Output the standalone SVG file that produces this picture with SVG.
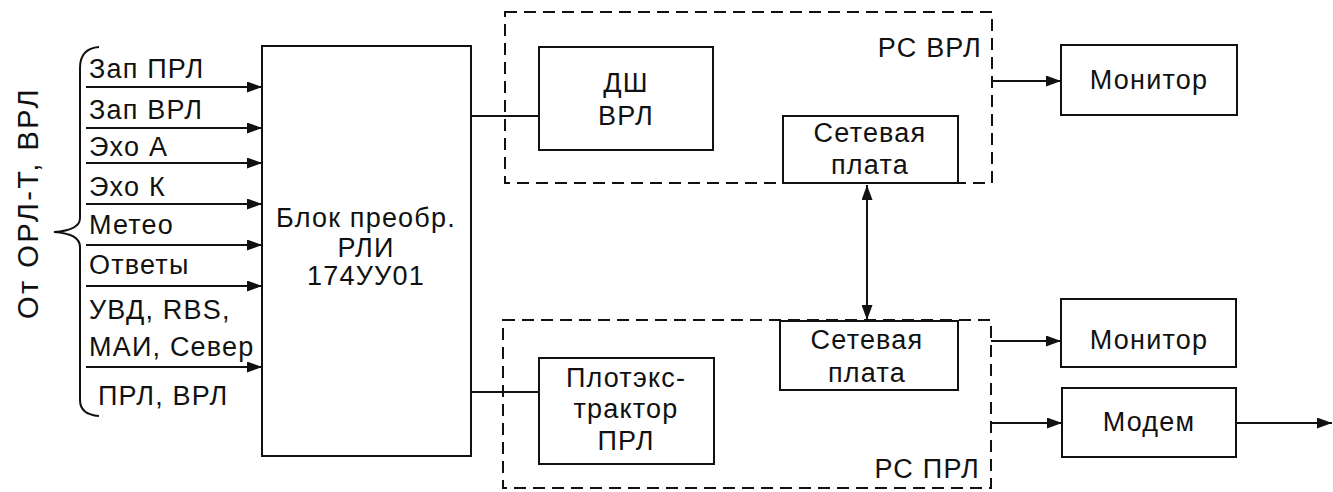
<svg xmlns="http://www.w3.org/2000/svg" width="1333" height="492" viewBox="0 0 1333 492">
<style>
text{font-family:"Liberation Sans",Arial,sans-serif;font-size:27px;letter-spacing:1.2px;fill:#111}
.c{text-anchor:middle}
.rot{font-size:29px;letter-spacing:2.5px}
.box{fill:none;stroke:#111;stroke-width:2}
.dash{fill:none;stroke:#111;stroke-width:2;stroke-dasharray:12 7}
.ln{fill:none;stroke:#111;stroke-width:2}
</style>
<defs>
<marker id="ah" markerWidth="15" markerHeight="11" refX="15" refY="5.5" orient="auto" markerUnits="userSpaceOnUse">
<path d="M0,0 L15,5.5 L0,11 Z" fill="#111"/>
</marker>
<marker id="ahs" markerWidth="15" markerHeight="11" refX="0" refY="5.5" orient="auto" markerUnits="userSpaceOnUse">
<path d="M15,0 L0,5.5 L15,11 Z" fill="#111"/>
</marker>
</defs>
<g id="input-label">
<text class="rot c" transform="translate(38,203) rotate(-90)">От ОРЛ-Т, ВРЛ</text>
<path class="ln" d="M99,47 C86,48 80,55 80,68 L80,218 C80,227 70,231 54,232 C70,233 80,238 80,247 L80,400 C80,410 86,415 99,416"/>
</g>
<g id="inputs">
<text x="89" y="78">Зап ПРЛ</text>
<text x="89" y="119">Зап ВРЛ</text>
<text x="89" y="156">Эхо А</text>
<text x="89" y="196">Эхо К</text>
<text x="89" y="234">Метео</text>
<text x="89" y="274">Ответы</text>
<text x="89" y="319">УВД, RBS,</text>
<text x="89" y="356">МАИ, Север</text>
<text x="98" y="405">ПРЛ, ВРЛ</text>
</g>
<g id="block">
<rect class="box" x="262" y="46" width="209" height="410"/>
<text class="c" x="366" y="227">Блок преобр.</text>
<text class="c" x="366" y="257">РЛИ</text>
<text class="c" x="366" y="285">174УУ01</text>
</g>
<g id="rs-vrl">
<rect class="dash" x="505" y="12" width="487" height="171"/>
<text x="982" y="57" text-anchor="end">РС ВРЛ</text>
</g>
<g id="dsh">
<rect class="box" x="539" y="47" width="174" height="103"/>
<text class="c" x="626" y="92">ДШ</text>
<text class="c" x="626" y="125">ВРЛ</text>
</g>
<g id="net1">
<rect class="box" x="783" y="116" width="175" height="67" fill="#fff"/>
<text class="c" x="870" y="142">Сетевая</text>
<text class="c" x="870" y="174">плата</text>
</g>
<g id="rs-prl">
<rect class="dash" x="503" y="320" width="488" height="168"/>
<text x="980" y="478" text-anchor="end">РС ПРЛ</text>
</g>
<g id="net2">
<rect class="box" x="780" y="321" width="178" height="69" fill="#fff"/>
<text class="c" x="867" y="349">Сетевая</text>
<text class="c" x="867" y="382">плата</text>
</g>
<g id="plot">
<rect class="box" x="539" y="358" width="175" height="106"/>
<text class="c" x="626" y="387">Плотэкс-</text>
<text class="c" x="626" y="418">трактор</text>
<text class="c" x="626" y="450">ПРЛ</text>
</g>
<g id="mon1">
<rect class="box" x="1061" y="45" width="176" height="70"/>
<text class="c" x="1149" y="89">Монитор</text>
</g>
<g id="mon2">
<rect class="box" x="1061" y="299" width="175" height="68"/>
<text class="c" x="1149" y="349">Монитор</text>
</g>
<g id="modem">
<rect class="box" x="1062" y="388" width="174" height="69"/>
<text class="c" x="1149" y="431">Модем</text>
</g>
<g id="connectors">
<line class="ln" x1="86" y1="87" x2="262" y2="87" marker-end="url(#ah)"/>
<line class="ln" x1="86" y1="128" x2="262" y2="128" marker-end="url(#ah)"/>
<line class="ln" x1="86" y1="163" x2="262" y2="163" marker-end="url(#ah)"/>
<line class="ln" x1="86" y1="204" x2="262" y2="204" marker-end="url(#ah)"/>
<line class="ln" x1="86" y1="245" x2="262" y2="245" marker-end="url(#ah)"/>
<line class="ln" x1="86" y1="286" x2="262" y2="286" marker-end="url(#ah)"/>
<line class="ln" x1="86" y1="367" x2="262" y2="367" marker-end="url(#ah)"/>
<line class="ln" x1="471" y1="116" x2="539" y2="116"/>
<line class="ln" x1="471" y1="392" x2="539" y2="392"/>
<line class="ln" x1="867" y1="185" x2="867" y2="320" marker-start="url(#ahs)" marker-end="url(#ah)"/>
<line class="ln" x1="992" y1="81" x2="1061" y2="81" marker-end="url(#ah)"/>
<line class="ln" x1="991" y1="341" x2="1061" y2="341" marker-end="url(#ah)"/>
<line class="ln" x1="991" y1="423" x2="1062" y2="423" marker-end="url(#ah)"/>
<line class="ln" x1="1236" y1="423" x2="1332" y2="423" marker-end="url(#ah)"/>
</g>
</svg>
